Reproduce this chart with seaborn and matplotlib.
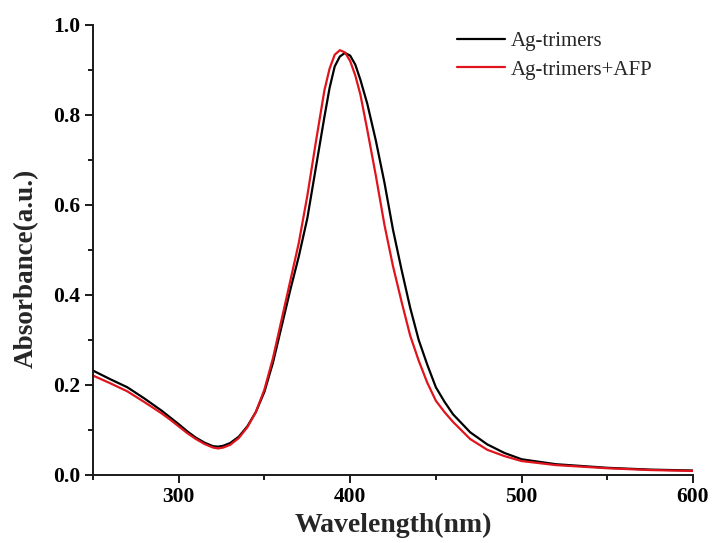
import numpy as np
import pandas as pd
import matplotlib
matplotlib.use("Agg")
import matplotlib.pyplot as plt
import seaborn as sns
from matplotlib.ticker import MultipleLocator, FormatStrFormatter

# --- values ---
wl_black = [250, 260, 270, 280, 290, 295, 300, 305, 310, 315, 320, 323, 326, 330,
            335, 340, 345, 350, 355, 360, 365, 370, 375, 380, 385, 388, 391, 394,
            397, 400, 403, 406, 410, 415, 420, 425, 430, 435, 440, 445, 450, 455,
            460, 470, 480, 490, 500, 520, 550, 575, 600]
abs_black = [0.232, 0.213, 0.195, 0.170, 0.143, 0.128, 0.113, 0.097, 0.083, 0.072,
             0.064, 0.063, 0.065, 0.071, 0.085, 0.108, 0.140, 0.185, 0.250, 0.330,
             0.410, 0.485, 0.570, 0.683, 0.796, 0.860, 0.908, 0.930, 0.938, 0.932,
             0.912, 0.878, 0.825, 0.743, 0.650, 0.545, 0.456, 0.372, 0.300, 0.245,
             0.195, 0.163, 0.135, 0.095, 0.068, 0.049, 0.035, 0.024, 0.016, 0.012,
             0.010]

wl_red = [250, 260, 270, 280, 290, 295, 300, 305, 310, 315, 320, 323, 326, 330,
          335, 340, 345, 350, 355, 360, 365, 370, 375, 380, 385, 388, 391, 394,
          397, 400, 403, 406, 410, 415, 420, 425, 430, 435, 440, 445, 450, 455,
          460, 470, 480, 490, 500, 520, 550, 575, 600]
abs_red = [0.221, 0.204, 0.186, 0.162, 0.137, 0.123, 0.108, 0.093, 0.080, 0.069,
           0.061, 0.059, 0.061, 0.067, 0.082, 0.106, 0.140, 0.190, 0.260, 0.345,
           0.430, 0.515, 0.620, 0.740, 0.855, 0.903, 0.934, 0.944, 0.939, 0.920,
           0.888, 0.845, 0.767, 0.665, 0.556, 0.464, 0.385, 0.310, 0.254, 0.205,
           0.165, 0.140, 0.118, 0.080, 0.056, 0.042, 0.031, 0.022, 0.015, 0.011,
           0.009]

labels = ["Ag-trimers", "Ag-trimers+AFP"]
colors = ["#000000", "#e0141c"]

df = pd.concat([
    pd.DataFrame({"Wavelength": wl_black, "Absorbance": abs_black, "Sample": labels[0]}),
    pd.DataFrame({"Wavelength": wl_red, "Absorbance": abs_red, "Sample": labels[1]}),
])

sns.set_style("ticks")
plt.rcParams["font.family"] = ["Liberation Serif", "DejaVu Serif"]

fig = plt.figure(figsize=(7.14, 5.43), dpi=100)
ax = fig.add_axes([93 / 714, 1 - 475 / 543, (693 - 93) / 714, (475 - 25) / 543])

sns.lineplot(data=df, x="Wavelength", y="Absorbance", hue="Sample",
             palette=dict(zip(labels, colors)), linewidth=1.6, ax=ax,
             sort=False, estimator=None)

ax.set_xlim(250, 600)
ax.set_ylim(0, 1.0)
ax.xaxis.set_major_locator(MultipleLocator(100))
ax.xaxis.set_minor_locator(MultipleLocator(50))
ax.yaxis.set_major_locator(MultipleLocator(0.2))
ax.yaxis.set_minor_locator(MultipleLocator(0.1))
ax.yaxis.set_major_formatter(FormatStrFormatter("%.1f"))

for side in ["top", "right"]:
    ax.spines[side].set_visible(False)
for side in ["left", "bottom"]:
    ax.spines[side].set_linewidth(1.4)
    ax.spines[side].set_color("#1a1a1a")

ax.tick_params(which="major", direction="out", length=6, width=1.4, colors="#1a1a1a",
               labelsize=15.5, pad=3)
ax.tick_params(which="minor", direction="out", length=3.3, width=1.4, colors="#1a1a1a")
for lbl in ax.get_xticklabels() + ax.get_yticklabels():
    lbl.set_fontweight("bold")
    lbl.set_color("black")

ax.set_xlabel("Wavelength(nm)", fontsize=20, fontweight="bold")
ax.set_ylabel("Absorbance(a.u.)", fontsize=19.5, fontweight="bold")
ax.xaxis.set_label_coords(0.5, -0.085)
ax.yaxis.set_label_coords(-0.09, 0.46)

leg = ax.legend(loc="upper left", bbox_to_anchor=((457 - 93) / 600, 0.985),
                frameon=False, fontsize=15, handlelength=2.3, handletextpad=0.3,
                labelspacing=0.42, borderpad=0, borderaxespad=0)
for line in leg.get_lines():
    line.set_linewidth(1.6)

fig.savefig("out.png", dpi=100)
